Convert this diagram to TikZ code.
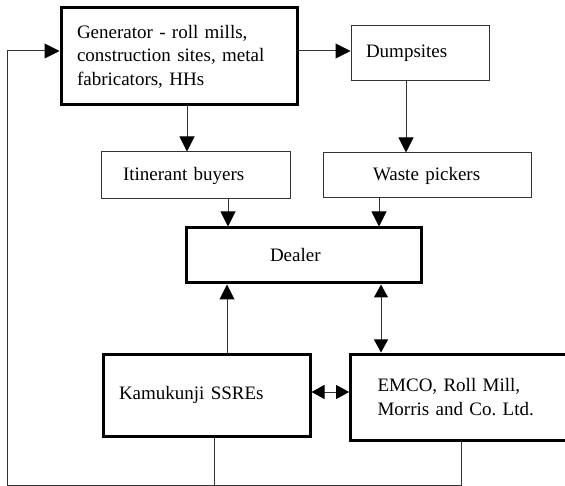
\documentclass[tikz,border=0pt]{standalone}
\usepackage{fontspec}
\setmainfont{Liberation Serif}
\usetikzlibrary{arrows.meta}
\frenchspacing
\begin{document}
\begin{tikzpicture}[x=1pt,y=-1pt,
  every node/.style={font=\fontsize{19}{23.5}\selectfont},
  box/.style={draw=black!80, line width=1pt, inner sep=0pt, align=left},
  bold/.style={draw=black, line width=3pt, inner sep=0pt, align=left},
  link/.style={draw=black!80, line width=1pt},
  tip/.style={-{Triangle[length=15pt,width=15pt,color=black]}},
  tips/.style={{Triangle[length=13pt,width=14pt,color=black]}-{Triangle[length=13pt,width=14pt,color=black]}}
]
\useasboundingbox (0,0) rectangle (565,486);

% boxes
\node[bold, minimum width=236pt, minimum height=97pt, text width=204pt] (gen) at (179,56.5)
  {Generator - roll mills,\\construction sites, metal\\fabricators, HHs};
\node[box, minimum width=138pt, minimum height=55pt, text width=108pt] (dumps) at (420,53.5) {Dumpsites};
\node[box, minimum width=189pt, minimum height=47pt, text width=145pt] (itin) at (195.5,175.5) {Itinerant buyers};
\node[box, minimum width=208pt, minimum height=45pt, text width=108pt] (waste) at (427,175.5) {Waste pickers};
\node[bold, minimum width=235pt, minimum height=55pt, text width=67pt] (dealer) at (303.5,255.5) {Dealer};
\node[bold, minimum width=207pt, minimum height=82pt, text width=175pt] (kam) at (206.5,395) {Kamukunji SSREs};
\node[bold, minimum width=270pt, minimum height=86pt, text width=216pt] (emco) at (485.6,397)
  {EMCO, Roll Mill,\\Morris and Co. Ltd.};

% guide lines for the connectors
\coordinate (yA) at (0,51);
\coordinate (yD) at (0,392);
\coordinate (yB) at (0,485);
\coordinate (xG) at (187,0);
\coordinate (xD) at (406,0);
\coordinate (xI) at (228,0);
\coordinate (xW) at (379,0);
\coordinate (xK) at (227,0);
\coordinate (xE) at (381,0);
\coordinate (xKb) at (214,0);
\coordinate (xEb) at (461,0);
\coordinate (xL) at (7,0);

% connectors
\draw[link,tip] (yA -| gen.east) -- (yA -| dumps.west);
\draw[link,tip] (xG |- gen.south) -- (xG |- itin.north);
\draw[link,tip] (xD |- dumps.south) -- (xD |- waste.north);
\draw[link,tip] (xI |- itin.south) -- (xI |- dealer.north);
\draw[link,tip] (xW |- waste.south) -- (xW |- dealer.north);
\draw[link,tip] (xK |- kam.north) -- (xK |- dealer.south);
\draw[link,tips] (xE |- dealer.south) -- (xE |- emco.north);
\draw[link,tips] (yD -| kam.east) -- (yD -| emco.west);

% return path to the generator
\draw[link] (xKb |- kam.south) -- (xKb |- yB);
\draw[link,tip] (xEb |- emco.south) -- (xEb |- yB) -- (xL |- yB) -- (xL |- yA) -- (yA -| gen.west);
\end{tikzpicture}
\end{document}
